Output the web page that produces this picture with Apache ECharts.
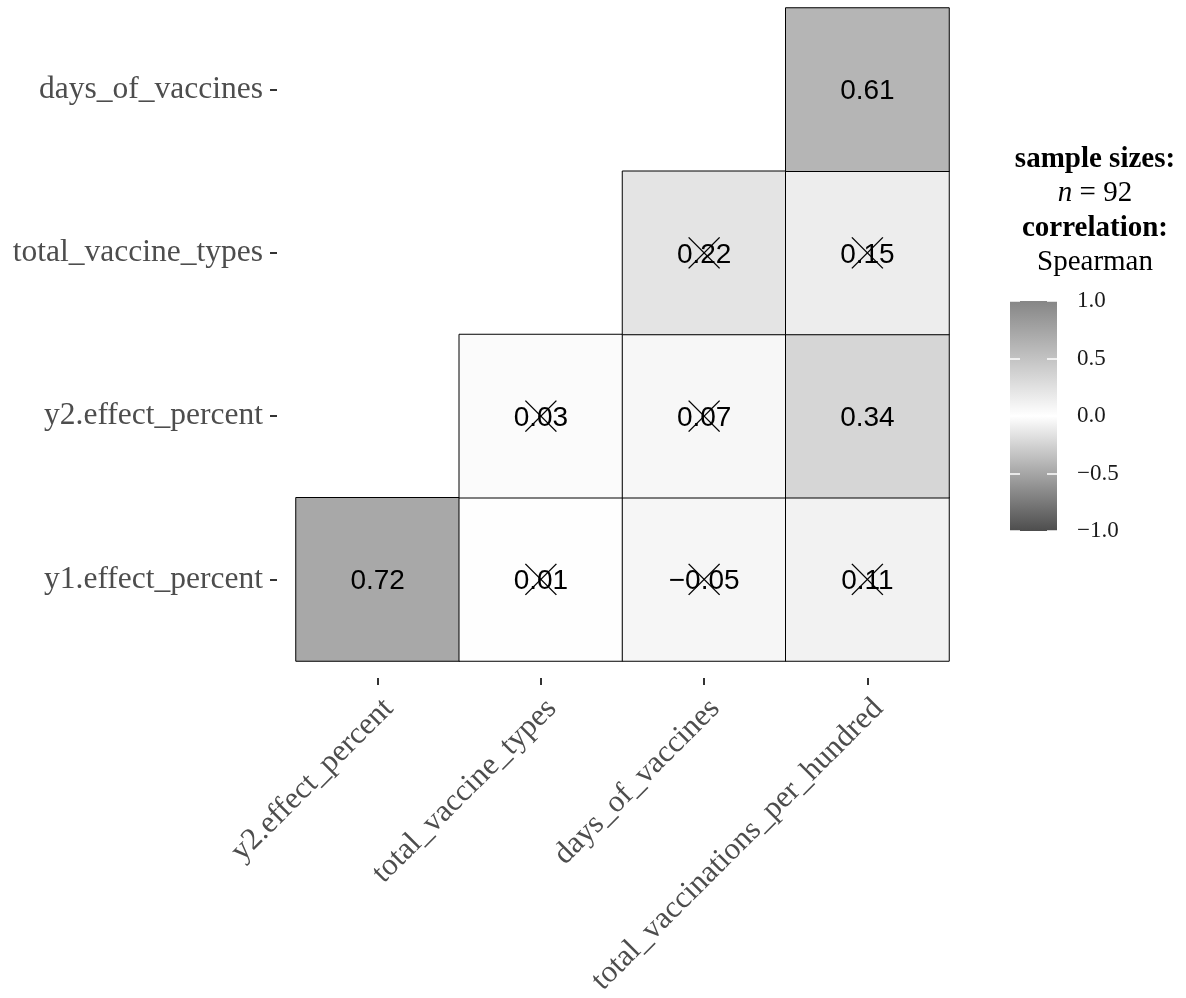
<!DOCTYPE html>
<html>
<head>
<meta charset="utf-8">
<style>
  html, body { margin: 0; padding: 0; background: #ffffff; }
  #chart { width: 1186px; height: 998px; }
</style>
<script src="https://cdn.jsdelivr.net/npm/echarts@6/dist/echarts.min.js"></script>
</head>
<body>
<div id="chart"></div>
<script>
// Variables along each axis of the lower-triangle correlation matrix
const xVars = ['y2.effect_percent', 'total_vaccine_types', 'days_of_vaccines', 'total_vaccinations_per_hundred'];
const yVars = ['y1.effect_percent', 'y2.effect_percent', 'total_vaccine_types', 'days_of_vaccines'];

// Spearman rho for each row (null = cell not drawn), columns follow xVars
const rhoY1Effect   = [0.72, 0.01, -0.05, 0.11];
const rhoY2Effect   = [null, 0.03, 0.07, 0.34];
const rhoVaccTypes  = [null, null, 0.22, 0.15];
const rhoDaysVacc   = [null, null, null, 0.61];

// Whether each coefficient is statistically significant (non-significant ones get crossed out)
const sigY1Effect   = [true, false, false, false];
const sigY2Effect   = [null, false, false, true];
const sigVaccTypes  = [null, null, false, false];
const sigDaysVacc   = [null, null, null, true];

// Legend scale ticks and colour ramp (low -> mid -> high)
const legendTicks = [-1.0, -0.5, 0.0, 0.5, 1.0];
const rampColors = ['#4d4d4d', '#ffffff', '#868686'];
const sampleSize = 92;

const rhoRows = [rhoY1Effect, rhoY2Effect, rhoVaccTypes, rhoDaysVacc];
const sigRows = [sigY1Effect, sigY2Effect, sigVaccTypes, sigDaysVacc];

const cells = [];
const crossed = [];
rhoRows.forEach((row, yi) => {
  row.forEach((v, xi) => {
    if (v === null) return;
    cells.push([xi, yi, v]);
    if (!sigRows[yi][xi]) crossed.push([xi, yi]);
  });
});

const fmtNum = (v, d) => v.toFixed(d).replace('-', '\u2212');

const serif = '"Liberation Serif", "DejaVu Serif", serif';
const sans = '"Liberation Sans", Arial, sans-serif';

// colour bar gradient: top = high end of the ramp
const barStops = rampColors.slice().reverse().map((c, i, a) => ({ offset: i / (a.length - 1), color: c }));

const chart = echarts.init(document.getElementById('chart'), null, { renderer: 'canvas' });

chart.setOption({
  backgroundColor: '#ffffff',
  animation: false,
  title: {
    left: 1090,
    top: 137,
    textAlign: 'center',
    text: '{b|sample sizes:}\n{i|n}{r| = ' + sampleSize + '}\n{b|correlation:}\n{r|Spearman}',
    textStyle: {
      fontWeight: 'normal',
      lineHeight: 34.5,
      rich: {
        b: { fontFamily: serif, fontSize: 29, fontWeight: 'bold', color: '#000000', lineHeight: 34.5 },
        r: { fontFamily: serif, fontSize: 29, fontWeight: 'normal', color: '#000000', lineHeight: 34.5 },
        i: { fontFamily: serif, fontSize: 29, fontWeight: 'normal', fontStyle: 'italic', color: '#000000', lineHeight: 34.5 }
      }
    }
  },
  graphic: [
    {
      type: 'rect',
      left: 1010,
      top: 301,
      z: 1,
      silent: true,
      shape: { width: 47, height: 230 },
      style: {
        fill: new echarts.graphic.LinearGradient(0, 0, 0, 1, barStops)
      }
    }
  ],
  grid: [
    { left: 296, top: 8, width: 653, height: 653, outerBoundsMode: 'none' },
    { left: 1010, top: 301, width: 47, height: 230, outerBoundsMode: 'none' }
  ],
  xAxis: [
    {
      type: 'category',
      gridIndex: 0,
      data: xVars,
      offset: 17,
      axisLine: { show: false },
      axisTick: { show: true, alignWithLabel: true, length: 7, lineStyle: { color: '#333333', width: 2 } },
      axisLabel: {
        rotate: 45,
        margin: 15,
        interval: 0,
        verticalAlign: 'top',
        fontFamily: serif,
        fontSize: 31,
        color: '#4d4d4d'
      },
      splitLine: { show: false },
      splitArea: { show: false }
    },
    {
      type: 'value',
      gridIndex: 1,
      min: 0,
      max: 1,
      show: false
    }
  ],
  yAxis: [
    {
      type: 'category',
      gridIndex: 0,
      data: yVars,
      offset: 19,
      axisLine: { show: false },
      axisTick: { show: true, alignWithLabel: true, length: 7, lineStyle: { color: '#333333', width: 2 } },
      axisLabel: {
        margin: 14,
        interval: 0,
        fontFamily: serif,
        fontSize: 31.5,
        color: '#4d4d4d'
      },
      splitLine: { show: false },
      splitArea: { show: false }
    },
    {
      // colour bar labels; white marks at both edges of the bar at each break
      type: 'value',
      gridIndex: 1,
      position: 'right',
      min: legendTicks[0],
      max: legendTicks[legendTicks.length - 1],
      interval: 0.5,
      z: 10,
      axisLine: { show: false },
      axisTick: { show: false },
      axisLabel: {
        margin: 20,
        fontFamily: serif,
        fontSize: 23,
        color: '#1a1a1a',
        formatter: v => fmtNum(v, 1)
      },
      splitLine: { show: true, lineStyle: { color: '#ffffff', width: 1.5, type: [10, 27] } }
    }
  ],
  visualMap: {
    type: 'continuous',
    show: false,
    seriesIndex: 0,
    min: legendTicks[0],
    max: legendTicks[legendTicks.length - 1],
    inRange: { color: rampColors }
  },
  series: [
    {
      type: 'heatmap',
      xAxisIndex: 0,
      yAxisIndex: 0,
      data: cells,
      itemStyle: { borderColor: '#000000', borderWidth: 1 },
      label: {
        show: true,
        offset: [0, 2],
        fontFamily: sans,
        fontSize: 28,
        color: '#000000',
        formatter: p => fmtNum(p.value[2], 2)
      },
      emphasis: { disabled: true }
    },
    {
      // crosses over non-significant coefficients
      type: 'custom',
      xAxisIndex: 0,
      yAxisIndex: 0,
      data: crossed,
      z: 5,
      silent: true,
      renderItem: (params, api) => {
        const c = api.coord([api.value(0), api.value(1)]);
        const h = 15.5;
        const style = { stroke: '#000000', lineWidth: 1.4 };
        return {
          type: 'group',
          children: [
            { type: 'line', shape: { x1: c[0] - h, y1: c[1] - h, x2: c[0] + h, y2: c[1] + h }, style },
            { type: 'line', shape: { x1: c[0] + h, y1: c[1] - h, x2: c[0] - h, y2: c[1] + h }, style }
          ]
        };
      }
    }
  ]
});
</script>
</body>
</html>
